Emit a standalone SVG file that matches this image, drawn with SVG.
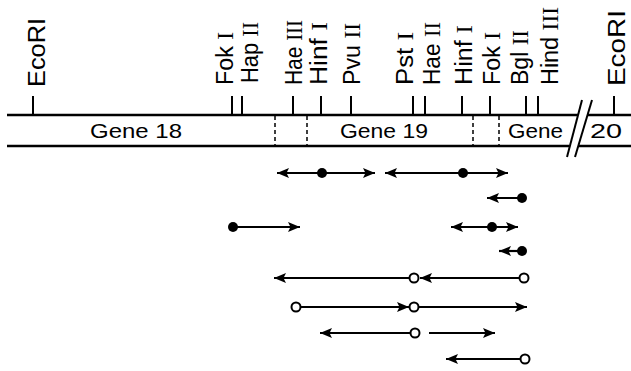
<svg xmlns="http://www.w3.org/2000/svg" width="631" height="371" viewBox="0 0 631 371">
<style>
.ln{stroke:#000;stroke-width:2.5;fill:none}
.tk{stroke:#000;stroke-width:2;fill:none}
.ds{stroke:#000;stroke-width:1.5;stroke-dasharray:4 3;fill:none}
.lb{font-family:"Liberation Sans",Arial,sans-serif;font-size:23px;fill:#000}
.rn{font-family:"Liberation Serif","Times New Roman",serif}
.gn{font-family:"Liberation Sans",Arial,sans-serif;font-size:21px;fill:#000}
.ar{stroke:#000;stroke-width:2.2;fill:none}
.fd{fill:#000}
.od{fill:#fff;stroke:#000;stroke-width:2}
</style>
<defs>
<marker id="ah" viewBox="0 0 12 10" refX="12" refY="5" markerWidth="12" markerHeight="10" markerUnits="userSpaceOnUse" orient="auto-start-reverse">
<path d="M0,0 L12,5 L0,10 L2.5,5 z" fill="#000"/>
</marker>
</defs>
<g id="map">
<line class="ln" x1="7" y1="115" x2="578" y2="115"/>
<line class="ln" x1="587" y1="115" x2="631" y2="115"/>
<line class="ln" x1="7" y1="146" x2="569" y2="146"/>
<line class="ln" x1="578" y1="146" x2="631" y2="146"/>
<line class="tk" x1="582" y1="100" x2="567" y2="157"/>
<line class="tk" x1="592" y1="100" x2="575" y2="157"/>
<line class="ds" x1="275" y1="116" x2="275" y2="145"/>
<line class="ds" x1="307" y1="116" x2="307" y2="145"/>
<line class="ds" x1="473" y1="116" x2="473" y2="145"/>
<line class="ds" x1="499" y1="116" x2="499" y2="145"/>
<text class="gn" x="90" y="138" textLength="92" lengthAdjust="spacingAndGlyphs">Gene 18</text>
<text class="gn" x="340" y="138" textLength="88" lengthAdjust="spacingAndGlyphs">Gene 19</text>
<text class="gn" x="508" y="138" textLength="55" lengthAdjust="spacingAndGlyphs">Gene</text>
<text class="gn" x="590" y="138" textLength="32" lengthAdjust="spacingAndGlyphs">20</text>
</g>
<g id="sites">
<g id="s1"><line class="tk" x1="33" y1="96" x2="33" y2="115"/><text class="lb" transform="translate(45,87) rotate(-90)" textLength="69" lengthAdjust="spacingAndGlyphs">EcoRI</text></g>
<g id="s2"><line class="tk" x1="232" y1="96" x2="232" y2="115"/><text class="lb" transform="translate(233,85) rotate(-90)" textLength="53" lengthAdjust="spacingAndGlyphs">Fok <tspan class="rn">I</tspan></text></g>
<g id="s3"><line class="tk" x1="242" y1="96" x2="242" y2="115"/><text class="lb" transform="translate(258,83) rotate(-90)" textLength="61" lengthAdjust="spacingAndGlyphs">Hap <tspan class="rn">II</tspan></text></g>
<g id="s4"><line class="tk" x1="293" y1="96" x2="293" y2="115"/><text class="lb" transform="translate(302,85) rotate(-90)" textLength="65" lengthAdjust="spacingAndGlyphs">Hae <tspan class="rn">III</tspan></text></g>
<g id="s5"><line class="tk" x1="321" y1="96" x2="321" y2="115"/><text class="lb" transform="translate(327,85) rotate(-90)" textLength="63" lengthAdjust="spacingAndGlyphs">Hinf <tspan class="rn">I</tspan></text></g>
<g id="s6"><line class="tk" x1="351" y1="96" x2="351" y2="115"/><text class="lb" transform="translate(360,85) rotate(-90)" textLength="62" lengthAdjust="spacingAndGlyphs">Pvu <tspan class="rn">II</tspan></text></g>
<g id="s7"><line class="tk" x1="413" y1="96" x2="413" y2="115"/><text class="lb" transform="translate(413,85) rotate(-90)" textLength="53" lengthAdjust="spacingAndGlyphs">Pst <tspan class="rn">I</tspan></text></g>
<g id="s8"><line class="tk" x1="425" y1="96" x2="425" y2="115"/><text class="lb" transform="translate(440,85) rotate(-90)" textLength="63" lengthAdjust="spacingAndGlyphs">Hae <tspan class="rn">II</tspan></text></g>
<g id="s9"><line class="tk" x1="462" y1="96" x2="462" y2="115"/><text class="lb" transform="translate(472,85) rotate(-90)" textLength="60" lengthAdjust="spacingAndGlyphs">Hinf <tspan class="rn">I</tspan></text></g>
<g id="s10"><line class="tk" x1="490" y1="96" x2="490" y2="115"/><text class="lb" transform="translate(500,85) rotate(-90)" textLength="53" lengthAdjust="spacingAndGlyphs">Fok <tspan class="rn">I</tspan></text></g>
<g id="s11"><line class="tk" x1="526" y1="96" x2="526" y2="115"/><text class="lb" transform="translate(528,85) rotate(-90)" textLength="55" lengthAdjust="spacingAndGlyphs">Bgl <tspan class="rn">II</tspan></text></g>
<g id="s12"><line class="tk" x1="538" y1="96" x2="538" y2="115"/><text class="lb" transform="translate(558,85) rotate(-90)" textLength="78" lengthAdjust="spacingAndGlyphs">Hind <tspan class="rn">III</tspan></text></g>
<g id="s13"><line class="tk" x1="614" y1="96" x2="614" y2="115"/><text class="lb" transform="translate(625,86) rotate(-90)" textLength="76" lengthAdjust="spacingAndGlyphs">EcoRI</text></g>
</g>
<g id="connectors">
<line class="ar" x1="277" y1="173" x2="375" y2="173" marker-start="url(#ah)" marker-end="url(#ah)"/>
<line class="ar" x1="385" y1="173" x2="508" y2="173" marker-start="url(#ah)" marker-end="url(#ah)"/>
<line class="ar" x1="522" y1="198" x2="487" y2="198" marker-end="url(#ah)"/>
<line class="ar" x1="233" y1="227" x2="300" y2="227" marker-end="url(#ah)"/>
<line class="ar" x1="451" y1="227" x2="518" y2="227" marker-start="url(#ah)" marker-end="url(#ah)"/>
<line class="ar" x1="522" y1="251" x2="499" y2="251" marker-end="url(#ah)"/>
<line class="ar" x1="409" y1="278" x2="274" y2="278" marker-end="url(#ah)"/>
<line class="ar" x1="519" y1="278" x2="420" y2="278" marker-end="url(#ah)"/>
<line class="ar" x1="301" y1="307" x2="409" y2="307" marker-end="url(#ah)"/>
<line class="ar" x1="419" y1="307" x2="527" y2="307" marker-end="url(#ah)"/>
<line class="ar" x1="410" y1="333" x2="320" y2="333" marker-end="url(#ah)"/>
<line class="ar" x1="429" y1="333" x2="495" y2="333" marker-end="url(#ah)"/>
<line class="ar" x1="520" y1="359" x2="446" y2="359" marker-end="url(#ah)"/>
</g>
<g id="dots">
<circle class="fd" cx="322" cy="173" r="5"/>
<circle class="fd" cx="463" cy="173" r="5"/>
<circle class="fd" cx="522" cy="198" r="5"/>
<circle class="fd" cx="233" cy="227" r="5"/>
<circle class="fd" cx="492" cy="227" r="5"/>
<circle class="fd" cx="522" cy="251" r="5"/>
<circle class="od" cx="414" cy="278" r="4.5"/>
<circle class="od" cx="524" cy="278" r="4.5"/>
<circle class="od" cx="296" cy="307" r="4.5"/>
<circle class="od" cx="414" cy="307" r="4.5"/>
<circle class="od" cx="415" cy="333" r="4.5"/>
<circle class="od" cx="525" cy="359" r="4.5"/>
</g>
</svg>
